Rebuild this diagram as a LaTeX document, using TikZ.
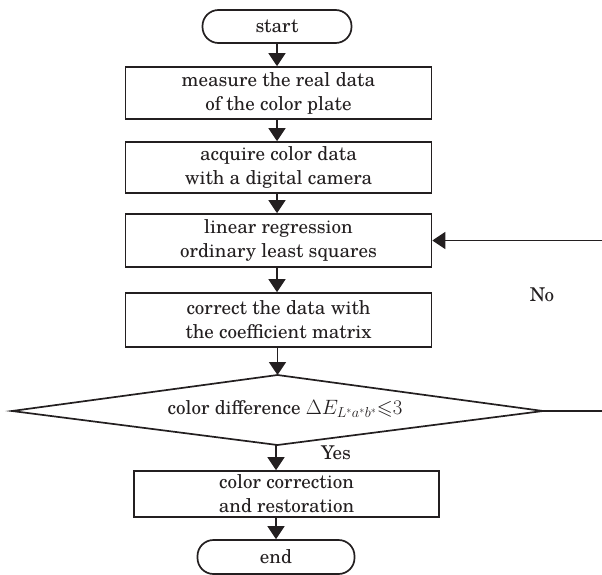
\documentclass[tikz,border=0pt]{standalone}
\usepackage{amssymb}
\usepackage{fontspec}
\setmainfont{TeX Gyre Schola}
\usetikzlibrary{arrows.meta}
\definecolor{ink}{HTML}{231F20}
\tikzset{
  line/.style={draw=ink, line width=1.7pt},
  label/.style={text=ink, font=\fontsize{19}{24}\selectfont, inner sep=0pt},
  procbox/.style={line, label, rectangle, minimum width=306pt, align=center},
  term/.style={line, label, rectangle, rounded corners=16pt},
  flow/.style={line, -{Triangle[length=13pt,width=17pt]}},
}
\begin{document}
\begin{tikzpicture}[x=1pt, y=-1pt]
  \clip (0,0) rectangle (602,575);

  % terminators and process boxes
  \node[term, minimum width=149pt, minimum height=33pt] (start) at (277,26.5) {start};
  \node[procbox, minimum height=52pt] (measure) at (278.5,93) {measure the real data\\of the color plate};
  \node[procbox, minimum height=51pt] (acquire) at (278.5,167.5) {acquire color data\\with a digital camera};
  \node[procbox, minimum height=53pt] (regress) at (278.5,240.5) {linear regression\\ordinary least squares};
  \node[procbox, minimum height=54pt] (correct) at (278.5,320) {correct the data with\\the coefficient matrix};

  % decision
  \coordinate (dtop) at (277.5,375);
  \coordinate (dbot) at (277.5,445);
  \coordinate (dleft) at (12,411);
  \coordinate (dright) at (543,411);
  \draw[line, line join=miter] (dtop) -- (dright) -- (dbot) -- (dleft) -- cycle;
  \node[label] (decide) at (285,409) {color difference {\fontsize{20.5}{24}\selectfont$\Delta E_{L^*a^*b^*}{\leqslant}3$}};

  \node[procbox, minimum height=46pt, minimum width=305pt] (restore) at (286.5,494) {color correction\\and restoration};
  \node[term, minimum width=157pt, minimum height=34pt] (end) at (276,557) {end};

  % main flow
  \draw[flow] (start.south) -- (start.south |- measure.north);
  \draw[flow] (measure.south -| start.south) -- (start.south |- acquire.north);
  \draw[flow] (acquire.south -| start.south) -- (start.south |- regress.north);
  \draw[flow] (regress.south -| start.south) -- (start.south |- correct.north);
  \draw[flow] (correct.south -| dtop) -- (dtop);
  \draw[flow] (dbot -| end.north) -- (end.north |- restore.north);
  \draw[flow] (restore.south -| end.north) -- (end.north);

  % loop back when the difference is too large
  \coordinate (loop) at (612,411);
  \draw[flow] (dright) -- (loop) |- (regress.east);
  \node[label] (no) at (542,295) {No};
  \node[label] (yes) at (336,453) {Yes};
\end{tikzpicture}
\end{document}
